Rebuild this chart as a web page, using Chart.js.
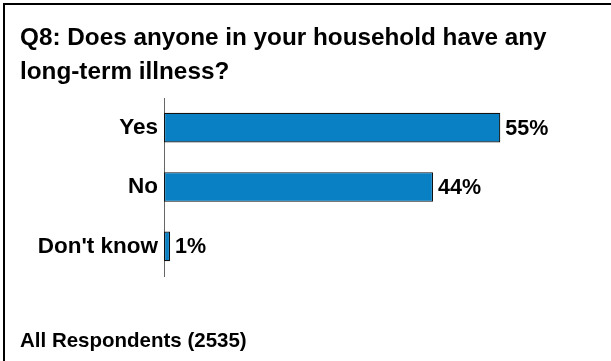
<!DOCTYPE html>
<html>
<head>
<meta charset="utf-8">
<script src="https://cdn.jsdelivr.net/npm/chart.js@4"></script>
<style>
  body { margin: 0; background: #fff; overflow: hidden; }
  #frame { position: absolute; left: 3px; top: 3px; width: 700px; height: 500px;
           border-left: 2px solid #000; border-top: 2px solid #000; }
  #wrap { position: absolute; left: 0; top: 0; width: 611px; height: 361px; }
</style>
</head>
<body>
<div id="frame"></div>
<div id="wrap"><canvas id="myChart" width="611" height="361"></canvas></div>
<script>
var categories = ["Yes", "No", "Don't know"];
var values = [55, 44, 1];
var titleLines = ["Q8: Does anyone in your household have any", "long-term illness?"];
var footerText = "All Respondents (2535)";

var font = "Arial, 'Liberation Sans', sans-serif";

// percent labels at the end of each bar
var barLabels = {
  id: "barLabels",
  afterDatasetsDraw: function(chart) {
    var ctx = chart.ctx;
    var meta = chart.getDatasetMeta(0);
    ctx.save();
    ctx.font = "bold 21.5px " + font;
    ctx.fillStyle = "#000";
    ctx.textAlign = "left";
    ctx.textBaseline = "middle";
    meta.data.forEach(function(bar, i) {
      ctx.fillText(values[i] + "%", bar.x + 5, bar.y + 1);
    });
    ctx.restore();
  }
};

var myChart = document.getElementById("myChart").getContext("2d");
var barChart = new Chart(myChart, {
  type: "bar",
  data: {
    labels: categories,
    datasets: [{
      data: values,
      backgroundColor: "#0A80C4",
      borderColor: "#111",
      borderWidth: 1.2,
      borderSkipped: false,
      barPercentage: 0.5,
      categoryPercentage: 1
    }]
  },
  options: {
    indexAxis: "y",
    responsive: false,
    animation: false,
    layout: { padding: { left: 20, right: 19, top: 0, bottom: 7.7 } },
    scales: {
      x: { display: false, min: 0, max: 70 },
      y: {
        grid: { display: false, drawTicks: false },
        border: { display: true, color: "#666", width: 1 },
        ticks: { color: "#000", padding: 6, font: { family: font, size: 22.5, weight: "bold" } },
        afterFit: function(scale) { scale.width = 144; }
      }
    },
    plugins: {
      legend: { display: false },
      tooltip: { enabled: false },
      title: {
        display: true,
        text: titleLines,
        align: "start",
        color: "#000",
        font: { family: font, size: 24.3, weight: "bold", lineHeight: 1.42 },
        padding: { top: 21, bottom: 8 }
      },
      subtitle: {
        display: true,
        text: footerText,
        position: "bottom",
        align: "start",
        color: "#000",
        font: { family: font, size: 20.5, weight: "bold", lineHeight: 1.2 },
        padding: { top: 52.7, bottom: 0 }
      }
    }
  },
  plugins: [barLabels]
});
</script>
</body>
</html>
